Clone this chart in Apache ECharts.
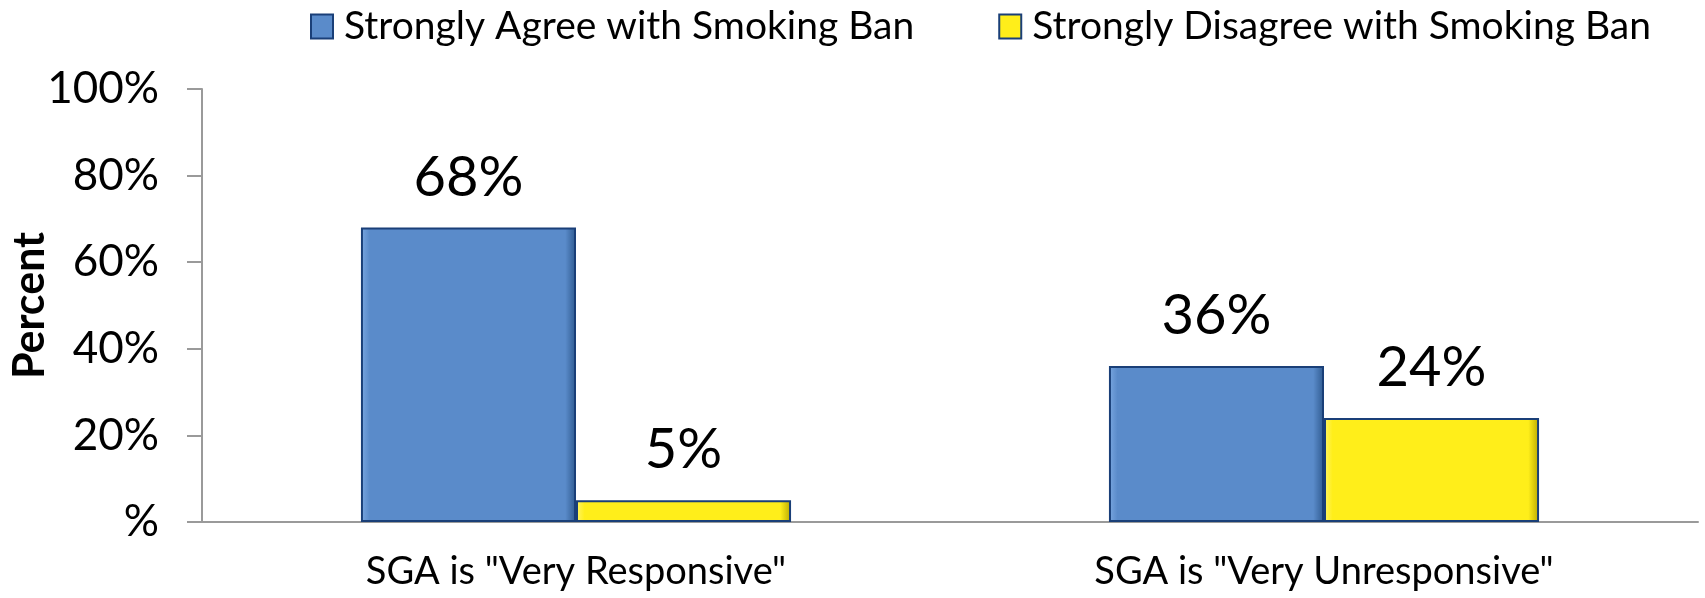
<!DOCTYPE html>
<html><head><meta charset="utf-8">
<script src="https://cdn.jsdelivr.net/npm/echarts@6/dist/echarts.min.js"></script>
<style>html,body{margin:0;padding:0;background:#fff}#c{width:1705px;height:598px}</style>
</head><body><div id="c"></div>
<script>
const categories = ['SGA is "Very Responsive"', 'SGA is "Very Unresponsive"'];
const agreeValues = [68, 36];
const disagreeValues = [5, 24];
const seriesNames = ['Strongly Agree with Smoking Ban', 'Strongly Disagree with Smoking Ban'];
const yTicks = [0, 20, 40, 60, 80, 100];

const FONT = 'Lato';
function grad(dark, base, light) {
  return new echarts.graphic.LinearGradient(0, 0, 1, 0, [
    {offset: 0, color: light}, {offset: 0.04, color: base},
    {offset: 0.95, color: base}, {offset: 1, color: dark}
  ]);
}
const chart = echarts.init(document.getElementById('c'));
chart.setOption({
  animation: false,
  textStyle: {fontFamily: FONT},
  legend: {
    top: 2, left: 305, itemGap: 84, itemWidth: 22, itemHeight: 24, icon: 'rect',
    textStyle: {fontSize: 39, color: '#000', fontFamily: FONT, padding: [0, 0, 0, 6]},
    data: seriesNames
  },
  grid: {left: 202, right: 7, top: 89, bottom: 76, containLabel: false, outerBoundsMode: 'none'},
  xAxis: {
    type: 'category', data: categories,
    axisLine: {lineStyle: {color: '#9a9a9a', width: 2}},
    axisTick: {length: 13, lineStyle: {color: '#9a9a9a', width: 2}},
    axisLabel: {fontSize: 38, color: '#000', margin: 31, fontFamily: FONT}
  },
  yAxis: {
    type: 'value', min: yTicks[0], max: yTicks[yTicks.length - 1], interval: 20,
    name: 'Percent', nameLocation: 'middle', nameRotate: 90, nameGap: 150, nameMoveOverlap: false,
    nameTextStyle: {fontSize: 43, fontWeight: 'bold', color: '#000', fontFamily: FONT},
    axisLine: {show: true, lineStyle: {color: '#9a9a9a', width: 2}},
    axisTick: {show: true, length: 15, lineStyle: {color: '#9a9a9a', width: 2}},
    splitLine: {show: false},
    axisLabel: {fontSize: 44, color: '#000', margin: 43, fontFamily: FONT,
      formatter: v => v === 0 ? '%' : v + '%'}
  },
  series: [
    {
      name: seriesNames[0], type: 'bar', data: agreeValues,
      barGap: '0%', barCategoryGap: '42.5%',
      itemStyle: {color: grad('#2f5a8f', '#5A8BCA', '#7aa7e0'), borderColor: '#1a3f78', borderWidth: 2},
      label: {show: true, position: 'top', distance: 22, fontSize: 56, color: '#000', fontFamily: FONT,
        formatter: p => p.value + '%'}
    },
    {
      name: seriesNames[1], type: 'bar', data: disagreeValues,
      itemStyle: {color: grad('#b8a800', '#FFEE1A', '#fff56a'), borderColor: '#1a3f78', borderWidth: 2},
      label: {show: true, position: 'top', distance: 22, fontSize: 56, color: '#000', fontFamily: FONT,
        formatter: p => p.value + '%'}
    }
  ]
});
</script></body></html>
